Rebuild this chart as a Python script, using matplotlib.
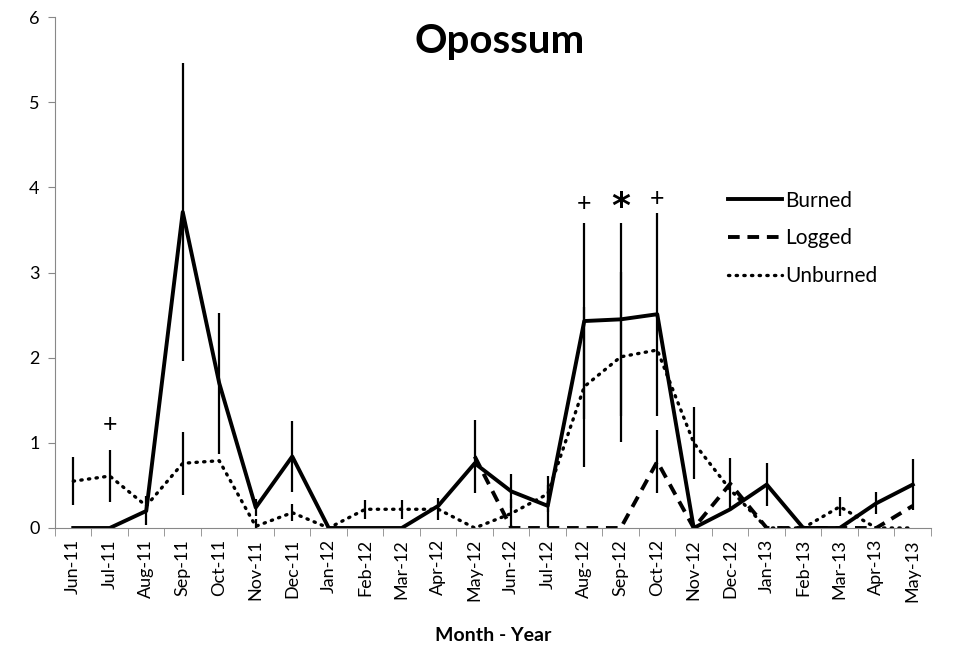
import numpy as np
import matplotlib
matplotlib.use("Agg")
import matplotlib.pyplot as plt

plt.rcParams['font.family'] = ['Lato', 'DejaVu Sans']

months = ["Jun-11", "Jul-11", "Aug-11", "Sep-11", "Oct-11", "Nov-11", "Dec-11",
          "Jan-12", "Feb-12", "Mar-12", "Apr-12", "May-12", "Jun-12", "Jul-12",
          "Aug-12", "Sep-12", "Oct-12", "Nov-12", "Dec-12", "Jan-13", "Feb-13",
          "Mar-13", "Apr-13", "May-13"]

nan = np.nan
burned = [0, 0, 0.2, 3.71, 1.7, 0.24, 0.84, 0, 0, 0, 0.26, 0.76,
          0.43, 0.26, 2.43, 2.45, 2.51, 0, 0.22, 0.51, 0, 0, 0.29, 0.51]
burned_err = [0, 0, 0.17, 1.75, 0.83, 0.1, 0.42, 0, 0, 0, 0, 0,
              0.2, 0.25, 1.15, 1.13, 1.19, 0, 0, 0.25, 0, 0, 0.13, 0.3]

logged = [nan, nan, nan, nan, nan, nan, nan, nan, nan, nan, nan, 0.84,
          0, 0, 0, 0, 0.78, 0, 0.52, 0, 0, 0, 0, 0.26]
logged_err = [0, 0, 0, 0, 0, 0, 0, 0, 0, 0, 0, 0.43,
              0, 0, 0, 0, 0.37, 0, 0.3, 0, 0, 0, 0, 0]

unburned = [0.55, 0.61, 0.26, 0.76, 0.79, 0.02, 0.18, 0, 0.22, 0.22, 0.22, 0,
            0.17, 0.4, 1.66, 2.01, 2.09, 1.0, 0.45, 0, 0, 0.25, 0, 0]
unburned_err = [0.28, 0.3, 0, 0.37, 0, 0.08, 0.1, 0, 0.11, 0.11, 0.13, 0,
                0.17, 0.21, 0.94, 1.0, 0, 0.42, 0, 0, 0, 0.11, 0, 0]

# significance marks: (month index, y, symbol)
marks = [(1, 1.22, "+"), (14, 3.81, "+"), (15, 3.85, "*"), (16, 3.87, "+")]

x = np.arange(len(months))

fig = plt.figure(figsize=(9.54, 6.47), dpi=100)
ax = fig.add_axes([55 / 954, 1 - 528 / 647, (931 - 55) / 954, (528 - 17) / 647])

for vals, err in [(burned, burned_err), (logged, logged_err), (unburned, unburned_err)]:
    e = np.array(err, dtype=float)
    e[e == 0] = nan
    ax.errorbar(x, vals, yerr=e, fmt='none', ecolor='black', elinewidth=1.6, capsize=0)

ax.plot(x, burned, color='black', lw=2.8, ls='-', label='Burned')
ax.plot(x, logged, color='black', lw=2.8, ls=(0, (3, 2)), label='Logged')
ax.plot(x, unburned, color='black', lw=2.4, ls=(0, (0.4, 1.9)),
        dash_capstyle='round', label='Unburned')

for i, yv, s in marks:
    if s == "*":
        ax.text(i, yv - 0.08, s, ha='center', va='center', fontsize=26, fontweight='bold',
                family='DejaVu Sans')
    else:
        ax.text(i, yv, s, ha='center', va='center', fontsize=18)

ax.set_xlim(-0.5, len(months) - 0.5)
ax.set_ylim(0, 6)
ax.set_yticks(range(0, 7))
ax.tick_params(axis='y', labelsize=13, length=5, color='#888888', pad=6)

ax.set_xticks(x)
ax.set_xticklabels(months, rotation=90, fontsize=13)
ax.set_xticks(np.arange(-0.5, len(months), 1), minor=True)
ax.tick_params(axis='x', which='major', length=0, pad=8)
ax.tick_params(axis='x', which='minor', length=6, color='#888888')

for side in ['top', 'right']:
    ax.spines[side].set_visible(False)
for side in ['left', 'bottom']:
    ax.spines[side].set_color('#888888')

ax.set_xlabel('Month - Year', fontsize=14, fontweight='bold', labelpad=18)

fig.text(500 / 954, 1 - 42 / 647, 'Opossum', ha='center', va='center',
         fontsize=29, fontweight='bold')

ax.legend(loc='upper left', bbox_to_anchor=(709 / 954, 1 - 172 / 647),
          bbox_transform=fig.transFigure, frameon=False, fontsize=15,
          handlelength=2.6, handletextpad=0.15, labelspacing=0.85)

fig.savefig('out.png', dpi=100)
